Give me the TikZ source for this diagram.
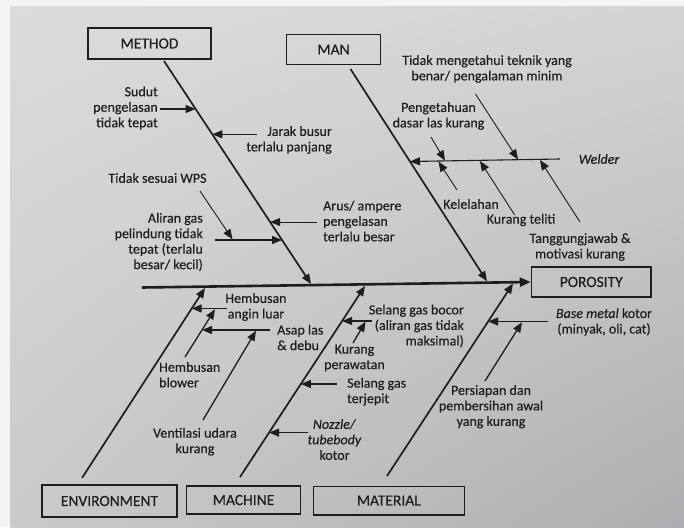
\documentclass[tikz,border=0pt]{standalone}
\usepackage{fontspec}
\setmainfont[FakeBold=0.35]{Carlito}
\usetikzlibrary{arrows.meta,shadings}
\definecolor{ink}{HTML}{1E1E1E}
\definecolor{paperUL}{HTML}{DCDCDC}
\definecolor{paperUR}{HTML}{D4D4D5}
\definecolor{paperLL}{HTML}{CACACA}
\definecolor{paperLR}{HTML}{AEAEB2}
\definecolor{edge}{HTML}{F4F4F4}
\newcommand\lblfont{\fontsize{14}{15.5}\selectfont}
\newcommand\boxfont{\fontsize{15.5}{16}\selectfont}
\begin{document}
\begin{tikzpicture}[x=1pt,y=-1pt,
  every node/.style={text=ink},
  lbl/.style={align=center, inner sep=0pt, font=\lblfont},
  catbox/.style={draw=ink, line width=1.5pt, font=\boxfont, inner sep=0pt},
  spine/.style={draw=ink, line width=2.6pt, -{Triangle[length=11pt,width=9pt]}},
  bone/.style={draw=ink, line width=1.7pt, -{Triangle[length=10pt,width=8pt]}},
  cause/.style={draw=ink, line width=1.3pt, -{Triangle[length=10pt,width=8pt]}},
  subcause/.style={draw=ink, line width=0.9pt, -{Triangle[length=10pt,width=8pt]}},
]
% page and paper
\useasboundingbox (0,0) rectangle (684,527);
\fill[edge] (0,0) rectangle (684,527);
\shade[upper left=paperUL, upper right=paperUR, lower left=paperLL, lower right=paperLR]
  (10,7) rectangle (684,527);

% category boxes and effect
\node[catbox, minimum width=123pt, minimum height=31pt] (method) at (149.5,43.5) {METHOD};
\node[catbox, minimum width=94pt, minimum height=30pt] (man) at (333.5,49.5) {MAN};
\node[catbox, minimum width=119.5pt, minimum height=30pt] (porosity) at (591.25,282) {POROSITY};
\node[catbox, minimum width=135pt, minimum height=32pt] (env) at (109.5,501) {ENVIRONMENT};
\node[catbox, minimum width=114pt, minimum height=28pt] (machine) at (243.5,500) {MACHINE};
\node[catbox, minimum width=151pt, minimum height=28.5pt] (material) at (388.75,500.5) {MATERIAL};

% spine
\coordinate (sp0) at (142,287.5);
\draw[spine] (sp0) -- (porosity.west);

% main bones
\coordinate (mb0) at (164,61);   \coordinate (mb1) at (311,284);
\coordinate (nb0) at (350.5,69); \coordinate (nb1) at (487,281.3);
\coordinate (eb0) at (82,478);   \coordinate (eb1) at (205,288);
\coordinate (cb0) at (240,477);  \coordinate (cb1) at (365,286);
\coordinate (tb0) at (387,476);  \coordinate (tb1) at (513,283.5);
\draw[bone] (mb0) -- (mb1);
\draw[bone] (nb0) -- (nb1);
\draw[bone] (eb0) -- (eb1);
\draw[bone] (cb0) -- (cb1);
\draw[bone] (tb0) -- (tb1);

% METHOD causes
\node[lbl, align=right, anchor=east] (sudut) at (158,108) {Sudut\\pengelasan\\tidak tepat};
\node[lbl, align=right, anchor=east] (jarak) at (332,140) {Jarak busur\\terlalu panjang};
\node[lbl] (wps) at (157.5,178) {Tidak sesuai WPS};
\node[lbl, align=right, anchor=east] (aliran) at (203,242) {Aliran gas\\pelindung tidak\\tepat (terlalu\\besar/ kecil)};
\node[lbl, align=left, anchor=west] (arus) at (323,221) {Arus/ ampere\\pengelasan\\terlalu besar};
\coordinate (sudut0) at (160,109);   \coordinate (sudut1) at (195.6,109);
\coordinate (jarak0) at (257,134.3); \coordinate (jarak1) at (212.3,134.3);
\coordinate (aliran0) at (215,240);  \coordinate (aliran1) at (282,240);
\coordinate (wps0) at (200,191);     \coordinate (wps1) at (232.5,239.3);
\coordinate (arus0) at (317,222);    \coordinate (arus1) at (270.1,222);
\draw[cause] (sudut0) -- (sudut1);
\draw[cause] (jarak0) -- (jarak1);
\draw[cause] (aliran0) -- (aliran1);
\draw[subcause] (wps0) -- (wps1);
\draw[subcause] (arus0) -- (arus1);

% MAN causes
\node[lbl] (teknik) at (487,69) {Tidak mengetahui teknik yang\\benar/ pengalaman minim};
\node[lbl] (dasar) at (438.5,116) {Pengetahuan\\dasar las kurang};
\node[lbl] (lelah) at (471,204) {Kelelahan};
\node[lbl] (teliti) at (521,220) {Kurang teliti};
\node[lbl] (tanggung) at (580,247) {Tanggungjawab \&\\motivasi kurang};
\node[lbl, font=\lblfont\itshape] (welder) at (599,159) {Welder};
\coordinate (wl0) at (560,159);  \coordinate (wl1) at (410,161.5);
\draw[draw=ink, line width=1.1pt, -{Triangle[length=10pt,width=8pt]}] (wl0) -- (wl1);
\coordinate (teknik0) at (475.5,94);   \coordinate (teknik1) at (518,159.5);
\coordinate (dasar0) at (431,137);     \coordinate (dasar1) at (445,160.6);
\coordinate (lelah0) at (457,190);     \coordinate (lelah1) at (438.5,161.6);
\coordinate (teliti0) at (514.7,215);  \coordinate (teliti1) at (480,161);
\coordinate (tanggung0) at (580,222);  \coordinate (tanggung1) at (540,160);
\draw[subcause] (teknik0) -- (teknik1);
\draw[subcause] (dasar0) -- (dasar1);
\draw[subcause] (lelah0) -- (lelah1);
\draw[subcause] (teliti0) -- (teliti1);
\draw[subcause] (tanggung0) -- (tanggung1);

% ENVIRONMENT causes
\node[lbl] (angin) at (256,307) {Hembusan\\angin luar};
\node[lbl, align=left, anchor=west] (asap) at (277,337.5) {Asap las\\\& debu};
\node[lbl, align=left, anchor=west] (blower) at (159,374.7) {Hembusan\\blower};
\node[lbl] (ventilasi) at (195,441.7) {Ventilasi udara\\kurang};
\coordinate (angin0) at (226.7,308.5); \coordinate (angin1) at (191.7,308.5);
\coordinate (blower0) at (185,357);    \coordinate (blower1) at (215,309.3);
\coordinate (asap0) at (270,330);      \coordinate (asap1) at (202,330);
\coordinate (vent0) at (203,420);      \coordinate (vent1) at (256,330.8);
\draw[cause] (angin0) -- (angin1);
\draw[cause] (blower0) -- (blower1);
\draw[cause] (asap0) -- (asap1);
\draw[cause] (vent0) -- (vent1);

% MACHINE causes
\node[lbl, align=right, anchor=east] (bocor) at (464,326) {Selang gas bocor\\(aliran gas tidak\\maksimal)};
\node[lbl] (rawat) at (354.5,358) {Kurang\\perawatan};
\node[lbl, align=left, anchor=west] (jepit) at (347,391.7) {Selang gas\\terjepit};
\node[lbl] (nozzle) at (334.5,439.5) {\textit{Nozzle/}\\\textit{tubebody}\\kotor};
\coordinate (bocor0) at (371.7,321);   \coordinate (bocor1) at (342.1,321);
\coordinate (rawat0) at (353,343);     \coordinate (rawat1) at (365.5,321.7);
\coordinate (jepit0) at (336.7,384);   \coordinate (jepit1) at (300.9,384);
\coordinate (nozzle0) at (307.5,432.6);\coordinate (nozzle1) at (269.1,432.6);
\draw[cause] (bocor0) -- (bocor1);
\draw[cause] (rawat0) -- (rawat1);
\draw[cause] (jepit0) -- (jepit1);
\draw[cause] (nozzle0) -- (nozzle1);

% MATERIAL causes
\node[lbl] (base) at (604,322) {\textit{Base metal} kotor\\(minyak, oli, cat)};
\node[lbl] (siap) at (491,406.7) {Persiapan dan\\pembersihan awal\\yang kurang};
\coordinate (base0) at (548.3,321.5);  \coordinate (base1) at (488.1,321.5);
\coordinate (siap0) at (485,381);      \coordinate (siap1) at (522,322.3);
\draw[cause] (base0) -- (base1);
\draw[cause] (siap0) -- (siap1);
\end{tikzpicture}
\end{document}
